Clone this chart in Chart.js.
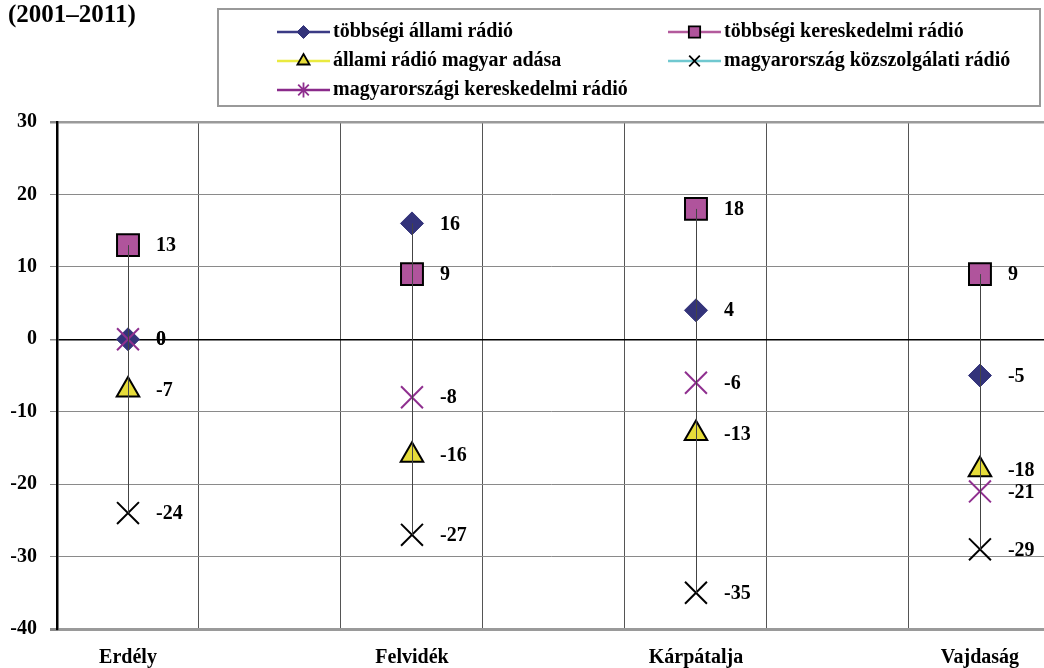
<!DOCTYPE html>
<html><head><meta charset="utf-8">
<script src="https://cdn.jsdelivr.net/npm/chart.js@4/dist/chart.umd.min.js"></script>
<style>html,body{margin:0;padding:0;background:#fff;overflow:hidden}#wrap{position:relative;width:1044px;height:668px}</style>
</head><body><div id="wrap"><canvas id="c" width="1044" height="668"></canvas></div>
<script>
const titleText = '(2001–2011)';
const categories = ['Erdély', 'Felvidék', 'Kárpátalja', 'Vajdaság'];
const seriesNames = ['többségi állami rádió', 'többségi kereskedelmi rádió', 'állami rádió magyar adása', 'magyarország közszolgálati rádió', 'magyarországi kereskedelmi rádió'];
const tobbsegiAllami = [0, 16, 4, -5];
const tobbsegiKereskedelmi = [13, 9, 18, 9];
const allamiMagyarAdasa = [-7, -16, -13, -18];
const mgKozszolgalati = [-24, -27, -35, -29];
const mgKereskedelmi = [0, -8, -6, -21];
const yTickValues = [30, 20, 10, 0, -10, -20, -30, -40];

const FONT = "'Liberation Serif', 'DejaVu Serif', serif";
const seriesValues = [tobbsegiAllami, tobbsegiKereskedelmi, allamiMagyarAdasa, mgKozszolgalati, mgKereskedelmi];
// categories sit in every second slot of the axis
const slotOf = i => i * 2;
const toPoints = arr => arr.map((v, i) => ({ x: slotOf(i), y: v }));

const styles = [
  { pointStyle: 'rectRot', legendStyle: 'rectRot', radius: 11.5, bg: '#33337a', border: '#33337a', bw: 1, line: '#3b3b85', lr: 6.5 },
  { pointStyle: 'rect', legendStyle: 'rect', radius: 15.5, bg: '#b0549c', border: '#000000', bw: 2, line: '#b35a9c', lr: 8 },
  { pointStyle: 'triangle', legendStyle: 'triangle', radius: 13, bg: '#e6dc3a', border: '#000000', bw: 2, line: '#eaea40', lr: 7 },
  { pointStyle: 'crossRot', legendStyle: 'crossRot', radius: 15.5, bg: '#000000', border: '#000000', bw: 2, line: '#70c8d0', lr: 7.5 },
  { pointStyle: 'crossRot', legendStyle: 'star', radius: 15.5, bg: '#8f2f8f', border: '#8f2f8f', bw: 2, line: '#8a2a8a', lr: 7.5 }
];

const datasets = seriesValues.map((vals, k) => ({
  type: 'line',
  label: seriesNames[k],
  data: toPoints(vals),
  showLine: false,
  pointStyle: styles[k].pointStyle,
  pointRadius: styles[k].radius,
  pointHoverRadius: styles[k].radius,
  pointBackgroundColor: styles[k].bg,
  pointBorderColor: styles[k].border,
  pointBorderWidth: styles[k].bw,
  backgroundColor: styles[k].bg,
  borderColor: styles[k].border,
  legendLine: styles[k].line,
  legendStyle: styles[k].legendStyle,
  legendRadius: styles[k].lr,
  clip: false,
  order: 5 - k
}));

function drawMarker(ctx, style, r, x, y, fill, stroke, bw) {
  ctx.save();
  ctx.fillStyle = fill; ctx.strokeStyle = stroke; ctx.lineWidth = bw;
  ctx.beginPath();
  if (style === 'rectRot') {
    ctx.moveTo(x, y - r); ctx.lineTo(x + r, y); ctx.lineTo(x, y + r); ctx.lineTo(x - r, y); ctx.closePath();
    ctx.fill(); ctx.stroke();
  } else if (style === 'rect') {
    const s = r * Math.SQRT1_2;
    ctx.rect(x - s, y - s, 2 * s, 2 * s); ctx.fill(); ctx.stroke();
  } else if (style === 'triangle') {
    ctx.moveTo(x, y - r); ctx.lineTo(x + r * 0.866, y + r * 0.5); ctx.lineTo(x - r * 0.866, y + r * 0.5); ctx.closePath();
    ctx.fill(); ctx.stroke();
  } else if (style === 'crossRot') {
    const s = r * Math.SQRT1_2;
    ctx.moveTo(x - s, y - s); ctx.lineTo(x + s, y + s); ctx.moveTo(x + s, y - s); ctx.lineTo(x - s, y + s);
    ctx.stroke();
  } else if (style === 'star') {
    const s = r * Math.SQRT1_2;
    ctx.moveTo(x - s, y - s); ctx.lineTo(x + s, y + s); ctx.moveTo(x + s, y - s); ctx.lineTo(x - s, y + s);
    ctx.moveTo(x, y - r); ctx.lineTo(x, y + r);
    ctx.stroke();
  }
  ctx.restore();
}

const decorPlugin = {
  id: 'decor',
  afterDatasetsDraw(chart) {
    const ctx = chart.ctx;
    const xs = chart.scales.x, ys = chart.scales.y;
    // high-low connector per category
    ctx.save();
    ctx.strokeStyle = '#444'; ctx.lineWidth = 1;
    categories.forEach((c, i) => {
      const vals = seriesValues.map(a => a[i]).filter(v => v !== null && v !== undefined);
      const hi = Math.max(...vals), lo = Math.min(...vals);
      const px = Math.round(xs.getPixelForValue(slotOf(i))) + 0.5;
      ctx.beginPath(); ctx.moveTo(px, ys.getPixelForValue(hi)); ctx.lineTo(px, ys.getPixelForValue(lo)); ctx.stroke();
    });
    ctx.restore();
    // value labels
    ctx.save();
    ctx.font = 'bold 20px ' + FONT; ctx.fillStyle = '#000'; ctx.textBaseline = 'middle'; ctx.textAlign = 'left';
    chart.data.datasets.forEach((ds, k) => {
      const meta = chart.getDatasetMeta(k);
      meta.data.forEach((el, i) => {
        const v = ds.data[i].y;
        if (v === null || v === undefined) return;
        ctx.fillText(String(v), el.x + 28, el.y + 1);
      });
    });
    ctx.restore();
  },
  afterDraw(chart) {
    const ctx = chart.ctx;
    ctx.save();
    // title
    ctx.font = 'bold 25px ' + FONT; ctx.fillStyle = '#000'; ctx.textBaseline = 'middle'; ctx.textAlign = 'left';
    ctx.fillText(titleText, 8, 16);
    // legend box
    ctx.strokeStyle = '#999'; ctx.lineWidth = 2;
    ctx.strokeRect(218, 9, 822, 97);
    const colX = [277, 668];
    const rowY = [32, 61, 90];
    ctx.font = 'bold 20px ' + FONT;
    chart.data.datasets.forEach((ds, k) => {
      const x0 = colX[k % 2], y0 = rowY[Math.floor(k / 2)];
      ctx.strokeStyle = ds.legendLine; ctx.lineWidth = 2.5;
      ctx.beginPath(); ctx.moveTo(x0, y0); ctx.lineTo(x0 + 53, y0); ctx.stroke();
      drawMarker(ctx, ds.legendStyle, ds.legendRadius, x0 + 26.5, y0, ds.pointBackgroundColor, ds.pointBorderColor, Math.min(ds.pointBorderWidth, 1.8));
      ctx.fillStyle = '#000'; ctx.textBaseline = 'middle';
      ctx.fillText(ds.label, x0 + 56, y0);
    });
    ctx.restore();
  }
};

new Chart(document.getElementById('c'), {
  data: { datasets },
  options: {
    responsive: false,
    animation: false,
    devicePixelRatio: 1,
    layout: { autoPadding: false, padding: { top: 122, left: 0, right: 0, bottom: 0 } },
    plugins: { legend: { display: false }, tooltip: { enabled: false }, title: { display: false } },
    scales: {
      x: {
        type: 'linear',
        min: -0.5,
        max: 6.451,
        afterBuildTicks: s => {
          const t = [];
          for (let v = -0.5; v <= 6; v += 0.5) t.push({ value: v });
          s.ticks = t;
        },
        afterFit: s => { s.height = 39; s.paddingLeft = 0; s.paddingRight = 0; },
        ticks: {
          autoSkip: false, maxRotation: 0, minRotation: 0, padding: 17,
          color: '#000', font: { family: FONT, size: 20, weight: 'bold' },
          callback: v => (Number.isInteger(v) && v % 2 === 0) ? categories[v / 2] : ''
        },
        grid: {
          drawTicks: false,
          color: c => (c.tick && !Number.isInteger(c.tick.value) && c.tick.value > -0.5) ? '#555' : 'rgba(0,0,0,0)',
          lineWidth: 1
        },
        border: { display: false }
      },
      y: {
        type: 'linear',
        min: -40, max: 30,
        afterBuildTicks: s => { s.ticks = yTickValues.map(v => ({ value: v })); },
        afterFit: s => { s.width = 57; },
        ticks: {
          padding: 13, color: '#000', font: { family: FONT, size: 20, weight: 'bold' }
        },
        grid: {
          tickLength: 7,
          color: c => c.tick.value === 0 ? '#000' : (c.tick.value === 30 || c.tick.value === -40) ? '#9a9a9a' : '#8a8a8a',
          lineWidth: c => c.tick.value === 0 ? 1.5 : c.tick.value === 30 ? 2.5 : c.tick.value === -40 ? 3 : 1,
          tickColor: '#8a8a8a'
        },
        border: { display: true, color: '#000', width: 2.5 }
      }
    }
  },
  plugins: [decorPlugin]
});
</script></body></html>
